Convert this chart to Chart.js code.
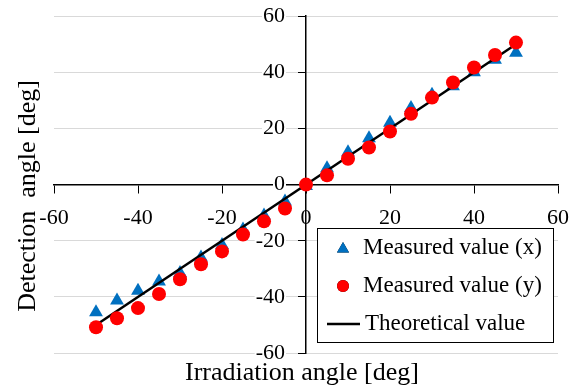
<!DOCTYPE html>
<html>
<head>
    <meta charset="UTF-8">
    <title>Detection angle</title>
    <script src="https://cdn.jsdelivr.net/npm/chart.js"></script>
    <style>
        body { margin: 0; background: white; }
        .wrap { width: 577px; height: 392px; position: relative; }
    </style>
</head>
<body>
    <div class="wrap"><canvas id="chart"></canvas></div>
    <script>
        // data
        const angles = [-50, -45, -40, -35, -30, -25, -20, -15, -10, -5, 0, 5, 10, 15, 20, 25, 30, 35, 40, 45, 50];
        const measuredX = [-45.5, -41.3, -37.8, -34.5, -31.5, -26, -21.5, -16, -11, -6, -0.5, 5.8, 11.5, 16.5, 22, 27.3, 32, 35, 40, 44.5, 47];
        const measuredY = [-50.8, -47.6, -44, -39, -33.7, -28.4, -23.8, -17.8, -13.1, -8.5, 0, 3.3, 9.2, 13.2, 18.9, 25.2, 31, 36.4, 41.7, 46.2, 50.6];
        const theoryAngles = [-50, 50];
        const theoryValues = [-50, 50];
        const axisMin = -60, axisMax = 60, axisStep = 20;

        const labels = ['Measured value (x)', 'Measured value (y)', 'Theoretical value'];
        const xTitle = 'Irradiation angle [deg]';
        const yTitle = 'Detection  angle [deg]';

        const FONT = '"Liberation Serif", "Times New Roman", serif';

        const toPoints = (xs, ys) => xs.map((x, i) => ({ x: x, y: ys[i] }));

        // axis titles, drawn by hand
        const axisTitles = {
            id: 'axisTitles',
            afterDraw(chart) {
                const ctx = chart.ctx;
                ctx.save();
                ctx.fillStyle = '#000';
                ctx.font = '26px ' + FONT;
                ctx.textAlign = 'center';
                ctx.textBaseline = 'middle';
                ctx.fillText(xTitle, 302, 373);
                ctx.translate(28, 196);
                ctx.rotate(-Math.PI / 2);
                ctx.fillText(yTitle, 0, 0);
                ctx.restore();
            }
        };

        // legend in a box inside the plot
        const legendBox = {
            id: 'legendBox',
            afterDraw(chart) {
                const ctx = chart.ctx;
                const x0 = 317, y0 = 228, w = 236, h = 114;
                ctx.save();
                ctx.fillStyle = '#fff';
                ctx.fillRect(x0, y0, w, h);
                ctx.strokeStyle = '#000';
                ctx.lineWidth = 1;
                ctx.strokeRect(x0 + 0.5, y0 + 0.5, w, h);

                ctx.font = '23px ' + FONT;
                ctx.textBaseline = 'middle';
                ctx.fillStyle = '#000';
                chart.data.datasets.forEach((ds, i) => {
                    const cy = y0 + 20 + i * 38;
                    if (ds.showLine) {
                        ctx.strokeStyle = ds.borderColor;
                        ctx.lineWidth = ds.borderWidth;
                        ctx.beginPath();
                        ctx.moveTo(327, cy);
                        ctx.lineTo(360, cy);
                        ctx.stroke();
                        ctx.fillStyle = '#000';
                        ctx.fillText(ds.label, 365, cy);
                    } else {
                        Chart.helpers.drawPoint(ctx, {
                            pointStyle: ds.pointStyle,
                            radius: ds.pointStyle === 'triangle' ? 7 : 6,
                            rotation: 0,
                            borderWidth: 0
                        }, 343, cy + (ds.pointStyle === 'triangle' ? 1 : 0));
                        ctx.fillStyle = ds.backgroundColor;
                        ctx.fill();
                        ctx.fillStyle = '#000';
                        ctx.fillText(ds.label, 363, cy);
                    }
                });
                ctx.restore();
            }
        };

        new Chart(document.getElementById('chart'), {
            type: 'scatter',
            data: {
                datasets: [
                    {
                        label: labels[0],
                        data: toPoints(angles, measuredX),
                        pointStyle: 'triangle',
                        pointRadius: 8,
                        pointBackgroundColor: '#0070C0',
                        pointBorderWidth: 0,
                        backgroundColor: '#0070C0',
                        borderColor: '#0070C0',
                        order: 3
                    },
                    {
                        label: labels[1],
                        data: toPoints(angles, measuredY),
                        pointStyle: 'circle',
                        pointRadius: 7,
                        pointBackgroundColor: '#FF0000',
                        pointBorderWidth: 0,
                        backgroundColor: '#FF0000',
                        borderColor: '#FF0000',
                        order: 1
                    },
                    {
                        label: labels[2],
                        data: toPoints(theoryAngles, theoryValues),
                        showLine: true,
                        pointRadius: 0,
                        borderColor: '#000',
                        borderWidth: 2.5,
                        backgroundColor: '#000',
                        order: 2
                    }
                ]
            },
            options: {
                responsive: true,
                maintainAspectRatio: false,
                animation: false,
                layout: { padding: { left: 54, right: 19, top: 15, bottom: 39 } },
                plugins: {
                    legend: { display: false },
                    tooltip: { enabled: false }
                },
                scales: {
                    x: {
                        type: 'linear',
                        position: { y: 0 },
                        min: axisMin,
                        max: axisMax,
                        ticks: {
                            stepSize: axisStep,
                            color: '#000',
                            padding: 12,
                            font: { family: FONT, size: 22 }
                        },
                        grid: {
                            drawOnChartArea: false,
                            tickLength: 8,
                            tickColor: '#000',
                            tickWidth: 1
                        },
                        border: { color: '#000', width: 1.5 },
                        // keep the plot edges where the layout padding puts them
                        afterFit(scale) {
                            scale.paddingLeft = 0;
                            scale.paddingRight = 0;
                        }
                    },
                    y: {
                        type: 'linear',
                        position: { x: 0 },
                        min: axisMin,
                        max: axisMax,
                        ticks: { display: false, stepSize: axisStep },
                        grid: {
                            color: '#d9d9d9',
                            lineWidth: 1,
                            tickLength: 7,
                            tickColor: '#000',
                            tickWidth: 1
                        },
                        border: { color: '#000', width: 1.5 }
                    },
                    // second y scale only carries the tick labels, set off left of the axis
                    yLabels: {
                        axis: 'y',
                        type: 'linear',
                        position: { x: -5 },
                        min: axisMin,
                        max: axisMax,
                        ticks: {
                            stepSize: axisStep,
                            color: '#000',
                            font: { family: FONT, size: 22 },
                            showLabelBackdrop: true,
                            backdropColor: '#fff',
                            backdropPadding: { left: 1, right: 1, top: 0, bottom: 0 }
                        },
                        grid: { display: false },
                        border: { display: false }
                    }
                }
            },
            plugins: [axisTitles, legendBox]
        });
    </script>
</body>
</html>
